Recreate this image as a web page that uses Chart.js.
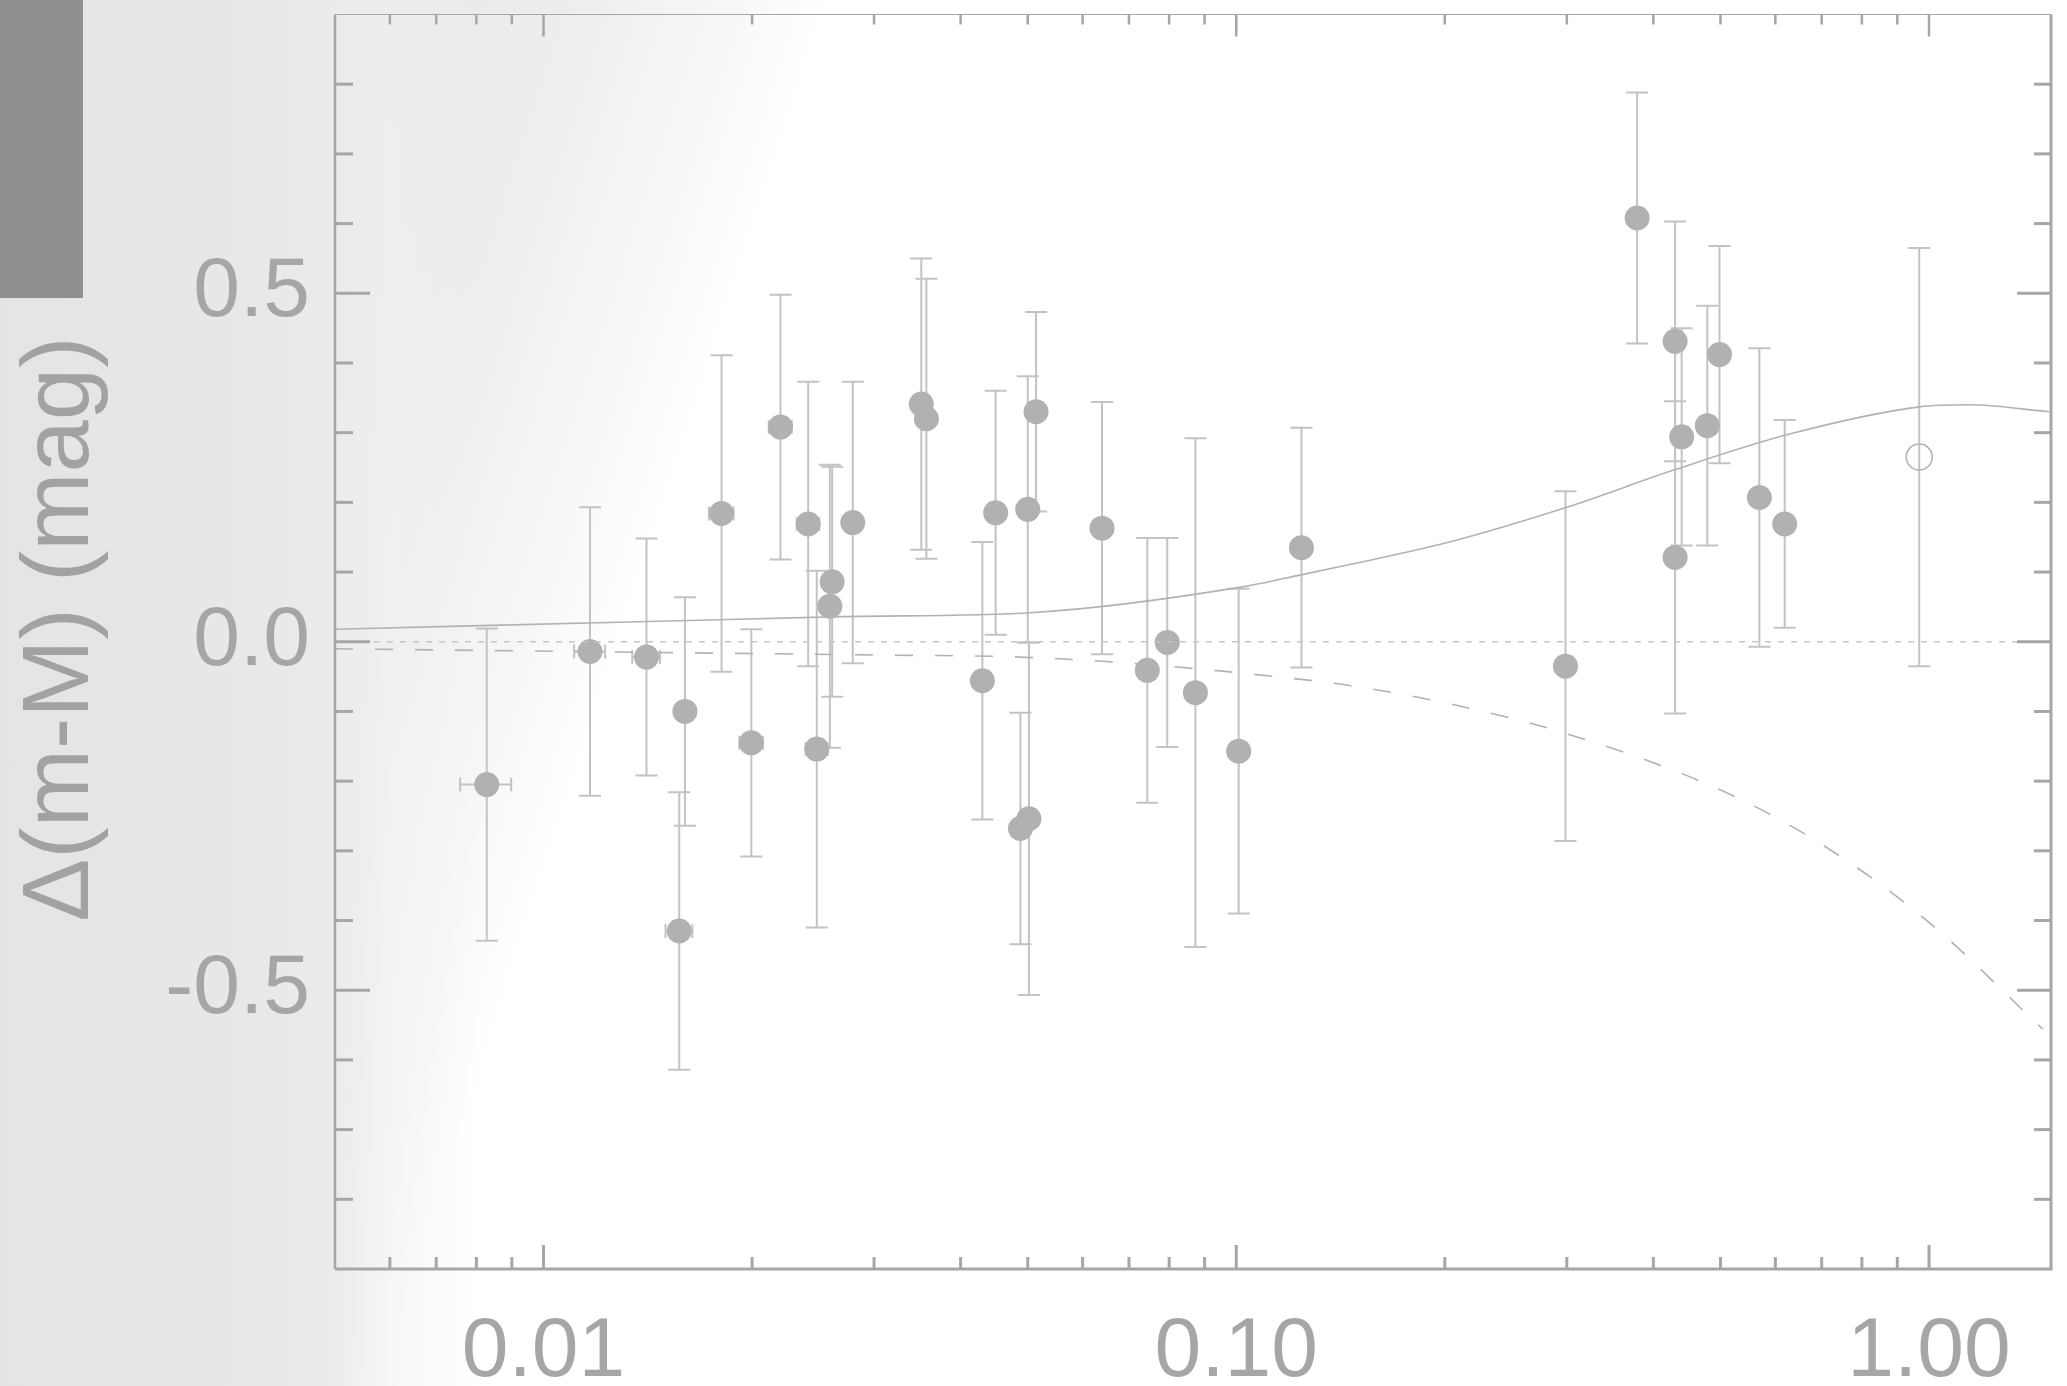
<!DOCTYPE html>
<html>
<head>
<meta charset="utf-8">
<script src="https://cdn.jsdelivr.net/npm/chart.js@4.4.0/dist/chart.umd.min.js"></script>
<style>
  html, body { margin: 0; padding: 0; }
  body {
    width: 2067px; height: 1386px; overflow: hidden; position: relative;
    background:
      linear-gradient(90deg, #e3e5e5 0px, #e7e9e9 250px, #eaecec 330px, rgba(240,242,242,0.6) 390px, rgba(255,255,255,0) 480px),
      linear-gradient(108deg, #e4e6e6 0%, #e9ebeb 18%, #eef0f0 24%, #f6f7f7 29%, rgba(255,255,255,0) 33%),
      #ffffff;
  }
  #tab { position: absolute; left: 0; top: 0; width: 83px; height: 298px; background: #8f8f8f; }
  #wrap { position: absolute; left: 0; top: 0; width: 2067px; height: 1386px; }
</style>
</head>
<body>
<div id="tab"></div>
<div id="wrap"><canvas id="chart"></canvas></div>
<script>
// filled points: redshift, residual and errors
const redshift = [0.00828, 0.01167, 0.01408, 0.0160, 0.0157, 0.01807, 0.01995, 0.02198, 0.0241, 0.0248,
  0.0259, 0.0261, 0.02795, 0.0351, 0.0357, 0.0430, 0.04494, 0.0488, 0.0502, 0.0500,
  0.0514, 0.0640, 0.0744, 0.0795, 0.0873, 0.1008, 0.1242, 0.2987, 0.379, 0.430,
  0.4395, 0.430, 0.4786, 0.4984, 0.569, 0.619];
const deltaMu = [-0.205, -0.014, -0.022, -0.100, -0.415, 0.184, -0.145, 0.308, 0.169, -0.154,
  0.051, 0.086, 0.171, 0.341, 0.320, -0.056, 0.185, -0.268, -0.254, 0.190,
  0.330, 0.163, -0.041, -0.001, -0.073, -0.157, 0.135, -0.035, 0.608, 0.431,
  0.294, 0.121, 0.310, 0.412, 0.207, 0.169];
const deltaMuErr = [0.224, 0.207, 0.170, 0.164, 0.199, 0.227, 0.163, 0.190, 0.204, 0.256,
  0.203, 0.165, 0.202, 0.209, 0.201, 0.199, 0.175, 0.166, 0.253, 0.191,
  0.143, 0.181, 0.190, 0.150, 0.365, 0.233, 0.172, 0.251, 0.180, 0.172,
  0.156, 0.224, 0.172, 0.156, 0.214, 0.149];
const redshiftErr = [0.0007, 0.0006, 0.00065, 0, 0.0007, 0.00074, 0.00078, 0.00084, 0.0009, 0.0009,
  0, 0, 0, 0, 0, 0, 0, 0, 0, 0,
  0, 0, 0, 0, 0, 0, 0, 0, 0, 0,
  0, 0, 0, 0, 0, 0];

// open point
const openZ = [0.968];
const openMu = [0.265];
const openErr = [0.300];

// model curves
const solidZ = [0.005, 0.0142, 0.0269, 0.0511, 0.101, 0.124, 0.143, 0.201, 0.30, 0.43, 0.629, 0.969, 1.14, 1.49];
const solidMu = [0.018, 0.029, 0.036, 0.042, 0.078, 0.096, 0.109, 0.142, 0.193, 0.247, 0.298, 0.337, 0.340, 0.330];
const dashedZ = [0.005, 0.0165, 0.030, 0.0487, 0.073, 0.124, 0.144, 0.201, 0.30, 0.501, 0.706, 0.998, 1.46];
const dashedMu = [-0.010, -0.016, -0.019, -0.022, -0.032, -0.054, -0.062, -0.088, -0.132, -0.213, -0.293, -0.402, -0.556];
const zeroZ = [0.005, 1.5];
const zeroMu = [0, 0];

// axes
const xMajorTicks = [0.01, 0.1, 1];
const xTickLabels = ['0.01', '0.10', '1.00'];
const yMajorTicks = [-0.5, 0, 0.5];
const yTickLabels = ['-0.5', '0.0', '0.5'];
const yTitle = 'Δ(m-M) (mag)';

const pts = (xs, ys) => xs.map((v, i) => ({ x: v, y: ys[i] }));
const grey = '#a6a6a6';

const errorBars = {
  id: 'errorBars',
  beforeDatasetsDraw(chart) {
    const { ctx, scales: { x, y } } = chart;
    ctx.save();
    ctx.strokeStyle = '#c3c3c3';
    ctx.lineWidth = 2;
    const cap = 11;
    const draw = (xs, ys, yErr, xErr) => {
      xs.forEach((v, i) => {
        const px = x.getPixelForValue(v);
        const py = y.getPixelForValue(ys[i]);
        const top = y.getPixelForValue(ys[i] + yErr[i]);
        const bot = y.getPixelForValue(ys[i] - yErr[i]);
        ctx.beginPath();
        ctx.moveTo(px, top); ctx.lineTo(px, bot);
        ctx.moveTo(px - cap, top); ctx.lineTo(px + cap, top);
        ctx.moveTo(px - cap, bot); ctx.lineTo(px + cap, bot);
        if (xErr && xErr[i] > 0) {
          const l = x.getPixelForValue(v - xErr[i]);
          const r = x.getPixelForValue(v + xErr[i]);
          ctx.moveTo(l, py); ctx.lineTo(r, py);
          ctx.moveTo(l, py - 7); ctx.lineTo(l, py + 7);
          ctx.moveTo(r, py - 7); ctx.lineTo(r, py + 7);
        }
        ctx.stroke();
      });
    };
    draw(redshift, deltaMu, deltaMuErr, redshiftErr);
    draw(openZ, openMu, openErr, null);
    ctx.restore();
  }
};

const frame = {
  id: 'frame',
  afterDatasetsDraw(chart) {
    const { ctx, chartArea: a, scales: { x, y } } = chart;
    const seg = (x1, y1, x2, y2, w) => {
      ctx.lineWidth = w;
      ctx.beginPath(); ctx.moveTo(x1, y1); ctx.lineTo(x2, y2); ctx.stroke();
    };
    ctx.save();
    ctx.strokeStyle = grey;
    seg(a.left, a.top, a.right, a.top, 1.2);
    seg(a.left, a.bottom, a.right + 1.5, a.bottom, 3);
    seg(a.left, a.top, a.left, a.bottom, 2.5);
    seg(a.right, a.top, a.right, a.bottom, 3);

    // x ticks (log minor 2..9)
    const xMinor = [];
    [0.001, 0.01, 0.1, 1].forEach(d => {
      for (let k = 2; k <= 9; k++) {
        const v = k * d;
        if (v > x.min && v < x.max) xMinor.push(v);
      }
    });
    xMinor.forEach(v => {
      const px = x.getPixelForValue(v);
      seg(px, a.bottom, px, a.bottom - 12, 3);
      seg(px, a.top, px, a.top + 10, 2.5);
    });
    xMajorTicks.forEach(v => {
      const px = x.getPixelForValue(v);
      seg(px, a.bottom, px, a.bottom - 24, 3);
      seg(px, a.top, px, a.top + 22, 2.5);
    });

    // y ticks
    for (let k = -8; k <= 8; k++) {
      if (k % 5 === 0) continue;
      const py = y.getPixelForValue(k / 10);
      seg(a.left, py, a.left + 18, py, 3);
      seg(a.right, py, a.right - 17, py, 3);
    }
    yMajorTicks.forEach(v => {
      const py = y.getPixelForValue(v);
      seg(a.left, py, a.left + 35, py, 3);
      seg(a.right, py, a.right - 34, py, 3);
    });

    // y axis title
    ctx.translate(62, 629);
    ctx.rotate(-Math.PI / 2);
    ctx.fillStyle = '#a2a2a2';
    ctx.font = '94px "Liberation Sans"';
    ctx.textAlign = 'center';
    ctx.textBaseline = 'middle';
    ctx.fillText(yTitle, 0, 0);
    ctx.restore();
  }
};

const ctx = document.getElementById('chart').getContext('2d');
new Chart(ctx, {
  type: 'scatter',
  data: {
    datasets: [
      {
        type: 'line', data: pts(zeroZ, zeroMu), borderColor: '#c6c6c6', borderWidth: 1.5,
        borderDash: [6, 7], pointRadius: 0, fill: false
      },
      {
        type: 'line', data: pts(solidZ, solidMu), borderColor: '#b2b2b2', borderWidth: 1.6,
        pointRadius: 0, fill: false, cubicInterpolationMode: 'monotone'
      },
      {
        type: 'line', data: pts(dashedZ, dashedMu), borderColor: '#b2b2b2', borderWidth: 1.6,
        borderDash: [18, 22], pointRadius: 0, fill: false, cubicInterpolationMode: 'monotone'
      },
      {
        data: pts(redshift, deltaMu), pointRadius: 12.5, pointHoverRadius: 12.5,
        backgroundColor: '#b1b1b1', borderWidth: 0
      },
      {
        data: pts(openZ, openMu), pointRadius: 13, pointHoverRadius: 13,
        backgroundColor: 'rgba(0,0,0,0)', borderColor: '#b1b1b1', borderWidth: 1.5
      }
    ]
  },
  options: {
    responsive: true,
    maintainAspectRatio: false,
    animation: false,
    layout: { padding: { top: 10, right: 16, left: 0, bottom: 0 } },
    plugins: { legend: { display: false }, tooltip: { enabled: false } },
    scales: {
      x: {
        type: 'logarithmic', min: 0.005, max: 1.5,
        grid: { display: false, drawTicks: false },
        border: { display: false },
        afterBuildTicks: s => { s.ticks = xMajorTicks.map(v => ({ value: v })); },
        afterFit: s => { s.height = 117; s.paddingLeft = 0; s.paddingRight = 0; },
        ticks: {
          callback: (v, i) => xTickLabels[i],
          color: grey, padding: 33, maxRotation: 0, autoSkip: false,
          font: { family: 'Liberation Sans', size: 84 }
        }
      },
      y: {
        min: -0.9, max: 0.9,
        grid: { display: false, drawTicks: false },
        border: { display: false },
        afterBuildTicks: s => { s.ticks = yMajorTicks.map(v => ({ value: v })); },
        afterFit: s => { s.width = 335; s.paddingTop = 0; s.paddingBottom = 0; },
        ticks: {
          callback: (v, i) => yTickLabels[i],
          color: grey, padding: 25, autoSkip: false,
          font: { family: 'Liberation Sans', size: 84 }
        }
      }
    }
  },
  plugins: [errorBars, frame]
});
</script>
</body>
</html>
